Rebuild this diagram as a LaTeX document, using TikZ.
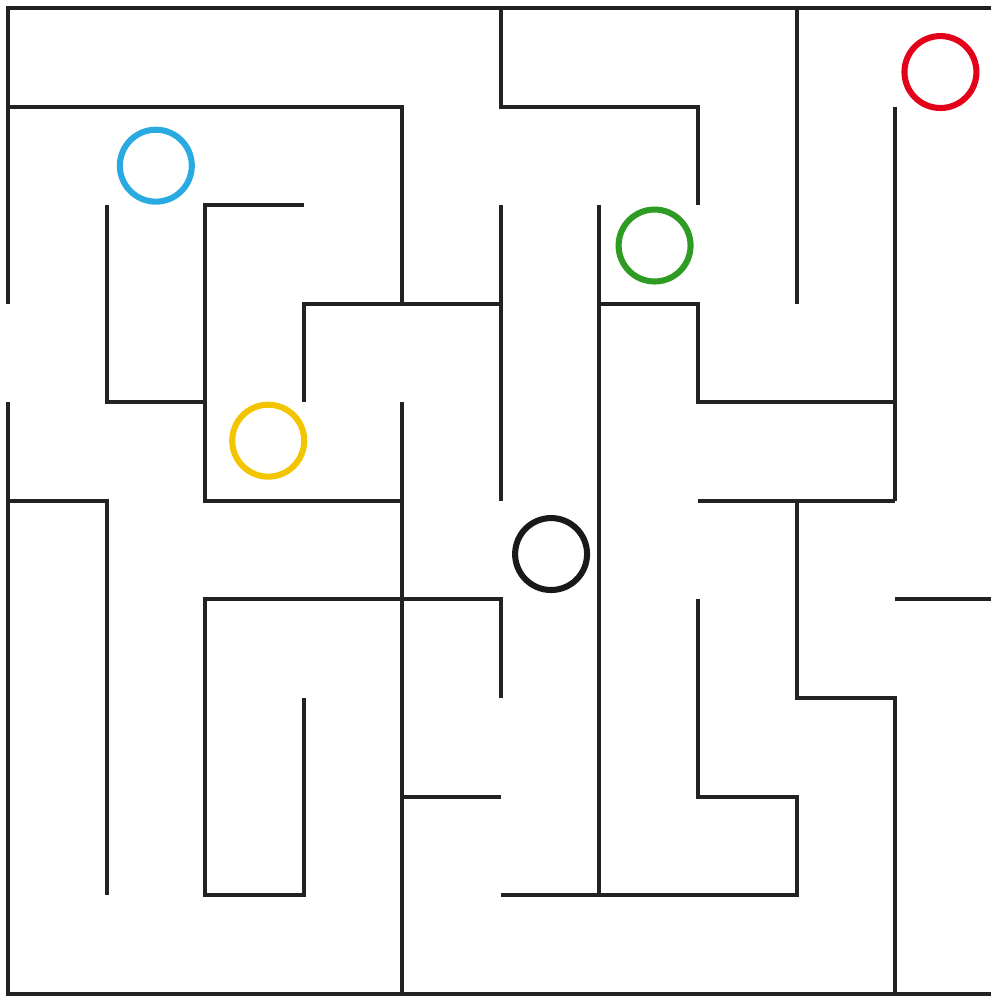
\documentclass[tikz,border=0pt]{standalone}
\usepackage{tikz}
\definecolor{mzblue}{HTML}{29ABE2}
\definecolor{mzyellow}{HTML}{F2C500}
\definecolor{mzgreen}{HTML}{2E9B22}
\definecolor{mzred}{HTML}{E2001A}
\definecolor{mzwall}{HTML}{222222}

\begin{document}
\begin{tikzpicture}[
  wall/.style={line width=1.15pt, mzwall},
  marker/.style={circle, draw, line width=1.75pt, minimum size=0.73cm, inner sep=0pt}
]
\useasboundingbox (-0.081,0.081) rectangle (9.963,-10.034);
% ---- outer walls ----
\draw[wall] (0,-3) -- (0,0) -- (10,0) -- (10,-4);
\draw[wall] (10,-5) -- (10,-10) -- (0,-10) -- (0,-4);
% ---- top left block ----
\draw[wall] (0,-1) -- (4,-1) -- (4,-3);
\draw[wall] (3,-4) -- (3,-3) -- (5,-3);
\draw[wall] (1,-2) -- (1,-4) -- (2,-4);
\draw[wall] (3,-2) -- (2,-2) -- (2,-5) -- (4,-5);
\draw[wall] (4,-4) -- (4,-10);
\draw[wall] (5,-2) -- (5,-5);
% ---- top right block ----
\draw[wall] (5,0) -- (5,-1) -- (7,-1) -- (7,-2);
\draw[wall] (8,0) -- (8,-3);
\draw[wall] (6,-2) -- (6,-9);
\draw[wall] (6,-3) -- (7,-3) -- (7,-4) -- (9,-4);
\draw[wall] (9,-1) -- (9,-5);
\draw[wall] (7,-5) -- (9,-5);
% ---- bottom right block ----
\draw[wall] (8,-5) -- (8,-7) -- (9,-7) -- (9,-10);
\draw[wall] (9,-6) -- (10,-6);
\draw[wall] (7,-6) -- (7,-8) -- (8,-8) -- (8,-9) -- (5,-9);
% ---- bottom left block ----
\draw[wall] (0,-5) -- (1,-5) -- (1,-9);
\draw[wall] (3,-7) -- (3,-9) -- (2,-9) -- (2,-6) -- (5,-6) -- (5,-7);
\draw[wall] (4,-8) -- (5,-8);
% ---- markers ----
\node[marker, mzblue] (blue) at (1.50,-1.60) {};
\node[marker, mzyellow] (yellow) at (2.64,-4.39) {};
\node[marker, mzgreen] (green) at (6.56,-2.41) {};
\node[marker, mzred] (red) at (9.46,-0.65) {};
\node[marker, black!90] (black) at (5.51,-5.54) {};
\end{tikzpicture}
\end{document}
